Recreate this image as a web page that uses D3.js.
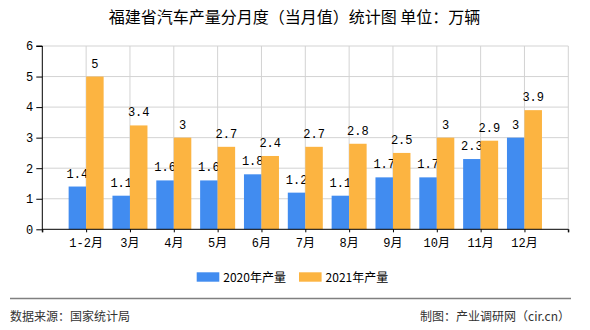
<!DOCTYPE html>
<html><head><meta charset="utf-8">
<script src="https://cdn.jsdelivr.net/npm/d3@7"></script>
<style>body{margin:0;background:#fff;}svg{display:block;}</style>
</head><body>
<svg id="c" width="590" height="330"></svg>
<script>
const categories = ["1-2月","3月","4月","5月","6月","7月","8月","9月","10月","11月","12月"];
const values2020 = [1.4,1.1,1.6,1.6,1.8,1.2,1.1,1.7,1.7,2.3,3];
const values2021 = [5,3.4,3,2.7,2.4,2.7,2.8,2.5,3,2.9,3.9];
const seriesNames = ["2020年产量","2021年产量"];
const colors = ["#418CF0","#FCB441"];
const yTicks = [0,1,2,3,4,5,6];

(function(){
const svg = d3.select("#c");
const pL=42.3, pR=568.3, pT=46, pB=229.3;
const x = d3.scaleLinear().domain([0,categories.length+1]).range([pL,pR]);
const y = d3.scaleLinear().domain([0,6]).range([pB,pT]);
const cjk = "'Noto Sans CJK SC','Noto Sans',sans-serif";
const mono = "'Liberation Mono','DejaVu Sans Mono','Noto Sans CJK SC',monospace";

svg.append("text").attr("x",294.5).attr("y",23).attr("text-anchor","middle")
  .style("font-family",cjk).style("font-size","16px").attr("fill","#000")
  .text("福建省汽车产量分月度（当月值）统计图 单位：万辆");

const g = svg.append("g");
g.selectAll("line.h").data(yTicks.slice(1)).join("line").attr("class","h")
  .attr("x1",pL).attr("x2",pR).attr("y1",d=>y(d)).attr("y2",d=>y(d))
  .attr("stroke","#d3d3d3").attr("stroke-width",1);
g.selectAll("line.v").data(d3.range(1,categories.length+2)).join("line").attr("class","v")
  .attr("x1",d=>x(d)).attr("x2",d=>x(d)).attr("y1",pT).attr("y2",pB)
  .attr("stroke","#d3d3d3").attr("stroke-width",1);

const bw = 17.5;
const series = [values2020, values2021];
series.forEach((vals,si)=>{
  svg.append("g").selectAll("rect").data(vals).join("rect")
    .attr("x",(d,i)=>x(i+1)-bw+si*bw).attr("width",bw)
    .attr("y",d=>y(d)).attr("height",d=>pB-y(d))
    .attr("fill",colors[si]);
  svg.append("g").selectAll("text").data(vals).join("text")
    .attr("x",(d,i)=>x(i+1)-bw/2+si*bw).attr("y",d=>y(d)-9)
    .attr("text-anchor","middle").style("font-family",mono).style("font-size","12px")
    .attr("fill","#000").text(d=>d);
});

const yAxis = d3.axisLeft(y).tickValues(yTicks).tickSize(6).tickPadding(3).tickFormat(d3.format("d"));
const ya = svg.append("g").attr("transform",`translate(${pL},0)`).call(yAxis);
ya.select(".domain").attr("d",`M-6,${pT}H0V${pB}`).attr("stroke","#000");
ya.selectAll("text").style("font-family",mono).style("font-size","12px").attr("fill","#000");

const xAxis = d3.axisBottom(x).tickValues(d3.range(0,categories.length+2)).tickSize(3).tickFormat("");
const xa = svg.append("g").attr("transform",`translate(0,${pB})`).call(xAxis);
xa.select(".domain").attr("d",`M${pL},3V0H${pR}V3`).attr("stroke","#000");
svg.append("g").selectAll("text").data(categories).join("text")
  .attr("x",(d,i)=>x(i+1)).attr("y",pB+18)
  .attr("text-anchor","middle").style("font-family",mono).style("font-size","12px")
  .attr("fill","#000").text(d=>d);

const legX=[196.7,299];
seriesNames.forEach((n,i)=>{
  svg.append("rect").attr("x",legX[i]).attr("y",272.3).attr("width",22.6).attr("height",9.4).attr("fill",colors[i]);
  svg.append("text").attr("x",legX[i]+26.6).attr("y",281.5)
    .style("font-family",cjk).style("font-size","12px").attr("fill","#000").text(n);
});

svg.append("line").attr("x1",10).attr("x2",571).attr("y1",298.5).attr("y2",298.5).attr("stroke","#808080").attr("stroke-width",1.3);
svg.append("text").attr("x",10).attr("y",321).style("font-family",cjk).style("font-size","12px").attr("fill","#333").text("数据来源：国家统计局");
svg.append("text").attr("x",570).attr("y",321).attr("text-anchor","end").style("font-family",cjk).style("font-size","12px").attr("fill","#333").text("制图：产业调研网（cir.cn）");
})();
</script>
</body></html>
